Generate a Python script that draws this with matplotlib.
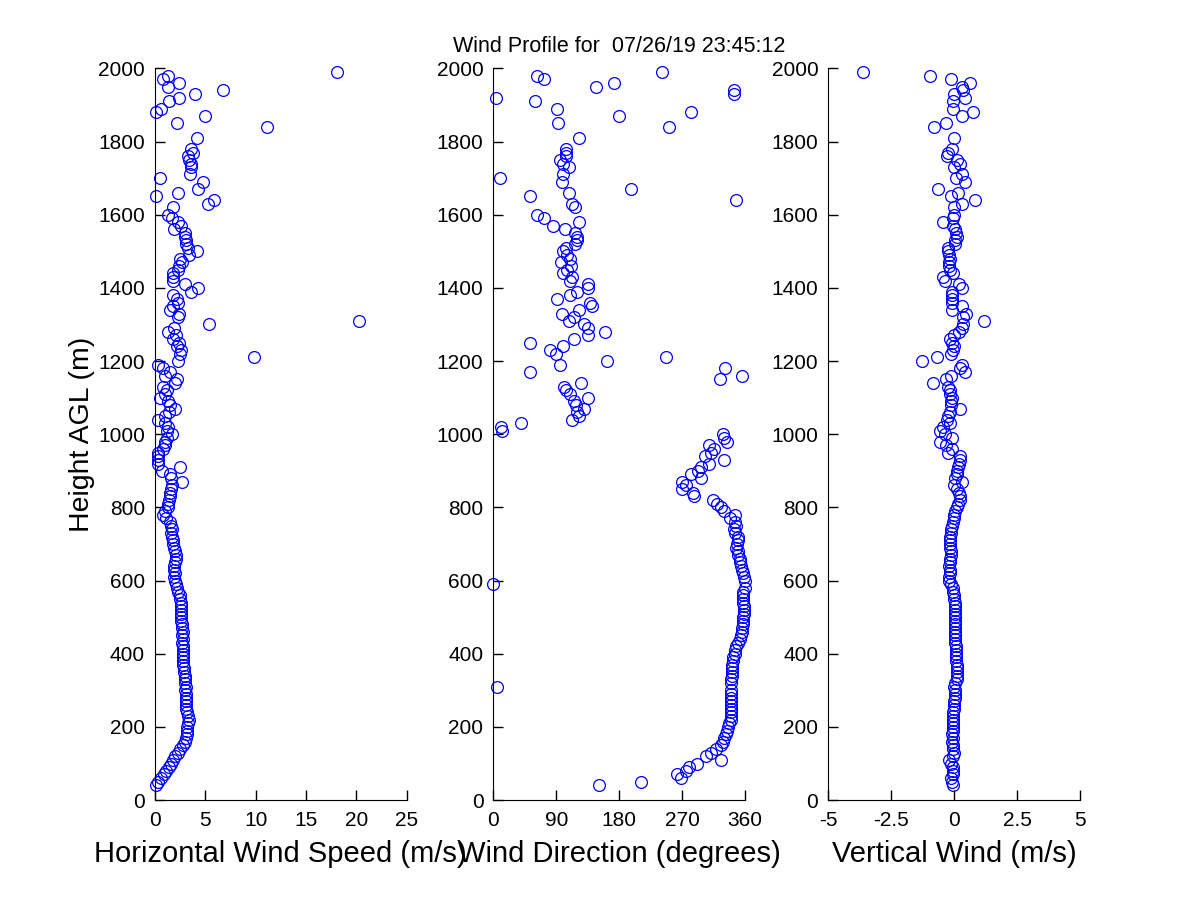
from matplotlib import pyplot
import numpy as np

nan = np.nan

# range gate heights (m AGL)
heights = [
    40, 50, 60, 70, 80, 90, 100, 110, 120, 130,
    140, 150, 160, 170, 180, 190, 200, 210, 220, 230,
    240, 250, 260, 270, 280, 290, 300, 310, 320, 330,
    340, 350, 360, 370, 380, 390, 400, 410, 420, 430,
    440, 450, 460, 470, 480, 490, 500, 510, 520, 530,
    540, 550, 560, 570, 580, 590, 600, 610, 620, 630,
    640, 650, 660, 670, 680, 690, 700, 710, 720, 730,
    740, 750, 760, 770, 780, 790, 800, 810, 820, 830,
    840, 850, 860, 870, 880, 890, 900, 910, 920, 930,
    940, 950, 960, 970, 980, 990, 1000,
    1010, 1020, 1030, 1040, 1050, 1060, 1070, 1080, 1090, 1100,
    1110, 1120, 1130, 1140, 1150, 1160, 1170, 1180, 1190, 1200,
    1210, 1220, 1230, 1240, 1250, 1260, 1270, 1280, 1290, 1300,
    1310, 1320, 1330, 1340, 1350, 1360, 1370, 1380, 1390, 1400,
    1410, 1420, 1430, 1440, 1450, 1460, 1470, 1480, 1490, 1500,
    1510, 1520, 1530, 1540, 1550, 1560, 1570, 1580, 1590, 1600,
    1610, 1620, 1630, 1640, 1650, 1660, 1670, 1680, 1690, 1700,
    1710, 1720, 1730, 1740, 1750, 1760, 1770, 1780, 1790, 1800,
    1810, 1820, 1830, 1840, 1850, 1860, 1870, 1880, 1890, 1900,
    1910, 1920, 1930, 1940, 1950, 1960, 1970, 1980, 1990,
]

# horizontal wind speed (m/s)
speed = [
    0.1, 0.3, 0.6, 0.9, 1.1, 1.4, 1.6, 1.8, 2.0, 2.3,
    2.5, 2.8, 3.0, 3.1, 3.2, 3.2, 3.2, 3.3, 3.4, 3.3,
    3.2, 3.1, 3.1, 3.1, 3.1, 3.1, 3.0, 3.1, 3.0, 3.0,
    3.0, 2.9, 2.9, 2.8, 2.8, 2.8, 2.8, 2.8, 2.8, 2.7,
    2.8, 2.7, 2.8, 2.7, 2.7, 2.6, 2.6, 2.6, 2.6, 2.6,
    2.6, 2.5, 2.5, 2.3, 2.2, 2.1, 2.0, 1.9, 2.0, 1.9,
    1.9, 2.0, 2.1, 2.1, 2.0, 1.9, 1.8, 1.8, 1.7, 1.6,
    1.7, 1.6, 1.5, 1.1, 0.8, 1.0, 1.3, 1.3, 1.4, 1.5,
    1.5, 1.6, 1.7, 2.7, 1.6, 1.5, 0.7, 2.5, 0.3, 0.3,
    0.3, 0.3, 0.8, 1.0, 1.0, 1.2, 1.7,
    1.2, 1.3, 1.0, 0.3, 1.0, 1.4, 2.0, 1.5, 1.3, 0.5,
    1.0, 1.2, 0.8, 2.0, 2.2, 1.0, 1.5, 0.8, 0.3, 2.3,
    9.8, 2.5, 2.6, 2.2, 2.4, 1.8, 2.1, 1.3, 1.9, 5.4,
    20.3, 2.3, 2.4, 1.5, 1.8, 2.3, 2.2, 1.8, 3.6, 4.3,
    3.0, 1.8, 1.8, 1.8, 2.3, 2.4, 2.7, 2.5, 3.4, 4.2,
    3.3, 3.1, 3.1, 3.0, 3.0, 1.9, 2.6, 2.3, 1.7, 1.3,
    nan, 1.8, 5.3, 5.9, 0.1, 2.3, 4.3, nan, 4.8, 0.5,
    3.5, nan, 3.6, 3.6, 3.4, 3.3, 3.8, 3.6, nan, nan,
    4.2, nan, nan, 11.1, 2.2, nan, 5.0, 0.1, 0.6, nan,
    1.4, 2.4, 4.0, 6.8, 1.3, 2.4, 0.8, 1.3, 18.1,
]

# wind direction (degrees)
direction = [
    151, 211, 268, 263, 275, 279, 291, 325, 304, 311,
    318, 325, 328, 330, 333, 334, 335, 337, 339, 339,
    339, 340, 340, 340, 340, 340, 340, 6, 340, 340,
    341, 341, 341, 341, 342, 343, 345, 346, 347, 350,
    352, 354, 355, 356, 357, 357, 357, 358, 358, 358,
    357, 357, 357, 357, 359, 0, 359, 358, 357, 355,
    354, 353, 352, 350, 349, 347, 348, 350, 349, 346,
    344, 347, 346, 338, 345, 330, 326, 319, 314, 287,
    285, 269, 275, 270, 297, 283, 292, 297, 308, 330,
    302, 311, 316, 308, 334, 329, 328,
    13, 11, 40, 113, 123, 120, 129, 118, 115, 135,
    110, 104, 101, 126, 324, 356, 52, 331, 96, 163,
    247, 90, 81, 100, 53, 115, 136, 160, 135, 129,
    108, 116, 98, 122, 141, 138, 91, 109, 120, 136,
    135, 109, 112, 99, 105, 111, 97, 110, 106, 99,
    104, 117, 120, 119, 117, 102, 85, 122, 72, 63,
    nan, 117, 112, 347, 52, 108, 197, nan, 98, 9,
    99, nan, 108, 100, 96, 104, 104, 104, nan, nan,
    122, nan, nan, 251, 92, nan, 180, 283, 91, nan,
    59, 4, 344, 344, 147, 172, 72, 63, 241,
]

# vertical wind (m/s)
w = [
    -0.05, -0.08, -0.1, -0.05, -0.05, -0.05, -0.1, -0.2, -0.05, 0.0,
    -0.05, -0.05, -0.07, -0.05, -0.07, -0.05, -0.04, -0.04, -0.03, -0.03,
    -0.03, 0.0, 0.0, 0.0, 0.02, 0.04, 0.03, 0.0, 0.05, 0.1,
    0.13, 0.13, 0.13, 0.12, 0.08, 0.07, 0.07, 0.07, 0.06, 0.05,
    0.04, 0.04, 0.05, 0.04, 0.04, 0.04, 0.04, 0.04, 0.04, 0.03,
    0.02, 0.0, 0.0, -0.02, -0.03, -0.12, -0.2, -0.18, -0.17, -0.17,
    -0.2, -0.17, -0.15, -0.13, -0.13, -0.15, -0.17, -0.17, -0.15, -0.13,
    -0.12, -0.07, -0.04, 0.0, 0.0, 0.02, 0.1, 0.15, 0.22, 0.24,
    0.2, 0.1, 0.0, 0.3, 0.05, 0.1, 0.13, 0.15, 0.2, 0.22,
    0.24, -0.22, -0.09, -0.3, -0.56, -0.09, -0.35,
    -0.56, -0.42, -0.16, -0.29, -0.22, -0.15, 0.24, -0.13, -0.1, -0.09,
    -0.16, -0.16, -0.22, -0.85, -0.32, -0.1, 0.44, 0.24, 0.3, -1.26,
    -0.69, -0.1, -0.05, 0.0, -0.09, -0.16, 0.0, 0.2, 0.3, 0.37,
    1.19, 0.37, 0.48, -0.09, 0.3, -0.09, -0.09, -0.09, -0.09, 0.3,
    0.21, -0.36, -0.45, -0.03, -0.16, -0.19, -0.19, -0.16, -0.19, -0.22,
    -0.22, 0.04, 0.04, 0.1, 0.08, 0.04, -0.03, -0.45, -0.03, 0.0,
    nan, 0.0, 0.3, 0.83, -0.13, 0.17, -0.62, nan, 0.44, 0.08,
    0.3, nan, 0.0, 0.24, 0.1, -0.29, -0.22, -0.09, nan, nan,
    0.0, nan, nan, -0.79, -0.33, nan, 0.3, 0.77, -0.05, nan,
    -0.05, 0.44, 0.0, 0.37, 0.3, 0.63, -0.12, -0.95, -3.6,
]

title = 'Wind Profile for  07/26/19 23:45:12'
y_ticks = [0, 200, 400, 600, 800, 1000, 1200, 1400, 1600, 1800, 2000]

pyplot.rcParams['font.family'] = ['Liberation Sans', 'DejaVu Sans']

fig = pyplot.figure(figsize=(12, 9), dpi=100)

panels = [
    (0.129, speed, (0, 25), [0, 5, 10, 15, 20, 25], ['0', '5', '10', '15', '20', '25'],
     'Horizontal Wind Speed (m/s)'),
    (0.411, direction, (0, 360), [0, 90, 180, 270, 360], ['0', '90', '180', '270', '360'],
     'Wind Direction (degrees)'),
    (0.690, w, (-5, 5), [-5, -2.5, 0, 2.5, 5], ['-5', '-2.5', '0', '2.5', '5'],
     'Vertical Wind (m/s)'),
]

axes = []
for left, xs, xlim, xt, xtl, xlabel in panels:
    ax = fig.add_axes([left, 0.111, 0.21, 0.813])
    ax.plot(xs, heights, 'o', mfc='none', mec='#0000ff', ms=8.5, mew=0.9,
            clip_on=False)
    ax.set_xlim(xlim)
    ax.set_ylim(0, 2000)
    ax.set_xticks(xt)
    ax.set_xticklabels(xtl)
    ax.set_yticks(y_ticks)
    ax.spines['top'].set_visible(False)
    ax.spines['right'].set_visible(False)
    ax.tick_params(direction='in', length=7, width=1, labelsize=15)
    ax.tick_params(axis='x', pad=8)
    ax.tick_params(axis='y', pad=7)
    ax.set_xlabel(xlabel, fontsize=21, labelpad=7)
    axes.append(ax)

axes[0].set_ylabel('Height AGL (m)', fontsize=20.5, labelpad=2)
axes[1].set_title(title, fontsize=15.5, pad=12)

pyplot.savefig('out.png', dpi=100)
